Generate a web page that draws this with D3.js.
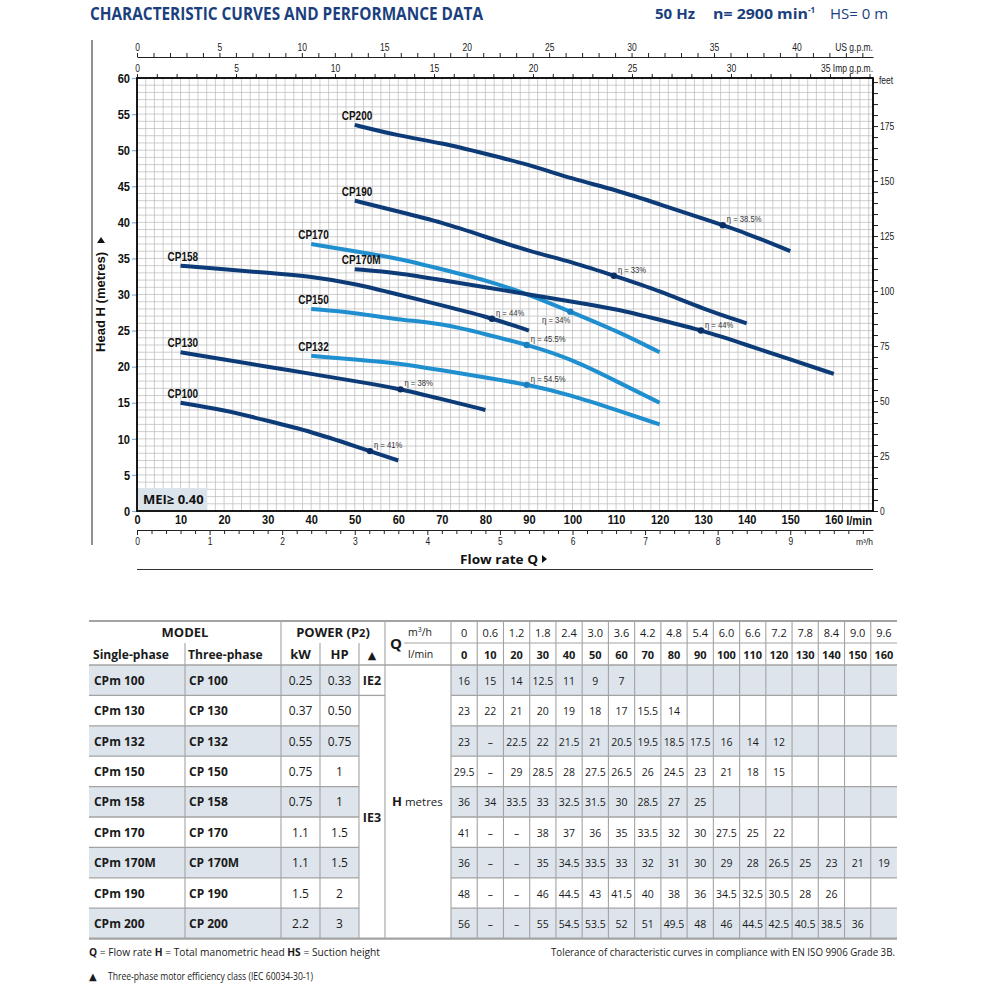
<!DOCTYPE html>
<html><head><meta charset="utf-8">
<script src="https://cdn.jsdelivr.net/npm/d3@7"></script>
<style>body{margin:0;background:#fff}svg{display:block}</style>
</head><body><svg id="c" width="987" height="987"></svg>
<script>
// ---------------- DATA ----------------
const flowLmin = [0,10,20,30,40,50,60,70,80,90,100,110,120,130,140,150,160];
const flowM3h = ["0","0.6","1.2","1.8","2.4","3.0","3.6","4.2","4.8","5.4","6.0","6.6","7.2","7.8","8.4","9.0","9.6"];
const singlePhase = ["CPm 100","CPm 130","CPm 132","CPm 150","CPm 158","CPm 170","CPm 170M","CPm 190","CPm 200"];
const threePhase  = ["CP 100","CP 130","CP 132","CP 150","CP 158","CP 170","CP 170M","CP 190","CP 200"];
const powerKW = ["0.25","0.37","0.55","0.75","0.75","1.1","1.1","1.5","2.2"];
const powerHP = ["0.33","0.50","0.75","1","1","1.5","1.5","2","3"];
const ieClasses = ["IE2","IE3"];
const headTable = [
  [16,15,14,12.5,11,9,7,"","","","","","","","","",""],
  [23,22,21,20,19,18,17,15.5,14,"","","","","","","",""],
  [23,"–",22.5,22,21.5,21,20.5,19.5,18.5,17.5,16,14,12,"","","",""],
  [29.5,"–",29,28.5,28,27.5,26.5,26,24.5,23,21,18,15,"","","",""],
  [36,34,33.5,33,32.5,31.5,30,28.5,27,25,"","","","","","",""],
  [41,"–","–",38,37,36,35,33.5,32,30,27.5,25,22,"","","",""],
  [36,"–","–",35,34.5,33.5,33,32,31,30,29,28,26.5,25,23,21,19],
  [48,"–","–",46,44.5,43,41.5,40,38,36,34.5,32.5,30.5,28,26,"",""],
  [56,"–","–",55,54.5,53.5,52,51,49.5,48,46,44.5,42.5,40.5,38.5,36,""]
];
const curveNames = ["CP100","CP130","CP132","CP150","CP158","CP170","CP170M","CP190","CP200"];
const curveStart = [10,10,40,40,10,40,50,50,50];
const curveEnd   = [60,80,120,120,90,120,160,140,150];
const curveTone  = ["dark","dark","light","light","dark","light","dark","dark","dark"];
const effFlow  = [53.5,60.5,89.5,89.5,81.5,99.5,129.5,109.5,134.5];
const effValue = ["41%","38%","54.5%","45.5%","44%","34%","44%","33%","38.5%"];
const headTicks = [0,5,10,15,20,25,30,35,40,45,50,55,60];
const flowTicks = [0,10,20,30,40,50,60,70,80,90,100,110,120,130,140,150,160];
const usTicks  = [0,5,10,15,20,25,30,35,40];
const impTicks = [0,5,10,15,20,25,30];
const m3hTicks = [0,1,2,3,4,5,6,7,8,9];
const feetTicks = [0,25,50,75,100,125,150,175];

// ---------------- SETUP ----------------
const svg = d3.select("#c");
const NAVY = "#0d3b78", LIGHT = "#1f8fd0", TITLE = "#1b3f7e";
const AR = "'Liberation Sans', Arial, sans-serif";
const OS = "'Open Sans', 'Noto Sans', sans-serif";
const DJ = "'DejaVu Sans', sans-serif";
function narrow(sel, f){ sel.each(function(){ const w=this.getComputedTextLength(); if(w>0){ this.setAttribute("textLength", (w*f).toFixed(1)); this.setAttribute("lengthAdjust","spacingAndGlyphs"); } }); return sel; }
function fitW(sel, w){ sel.attr("textLength", w).attr("lengthAdjust","spacingAndGlyphs"); return sel; }

const L=137, R=873, T=78, B=511;
const QMAX = 169;
const x = d3.scaleLinear([0,QMAX],[L,R]);
const y = d3.scaleLinear([0,60],[B,T]);
const xUS = d3.scaleLinear([0,QMAX/3.7854],[L,R]);
const xImp = d3.scaleLinear([0,QMAX/4.5461],[L,R]);
const xM3 = d3.scaleLinear([0,QMAX/16.6667],[L,R]);
const yFt = d3.scaleLinear([0,60/0.3048],[B,T]);

// ---------------- HEADER ----------------
fitW(svg.append("text").attr("x",90).attr("y",20).attr("font-family",OS).attr("font-weight",700)
  .attr("font-size",18).attr("fill",TITLE).text("CHARACTERISTIC CURVES AND PERFORMANCE DATA"),393);
fitW(svg.append("text").attr("x",655).attr("y",19).attr("font-family",OS).attr("font-weight",700)
  .attr("font-size",15).attr("fill",TITLE).text("50 Hz"),40);
fitW(svg.append("text").attr("x",713).attr("y",19).attr("font-family",OS).attr("font-weight",700)
  .attr("font-size",15).attr("fill",TITLE).text("n= 2900 min"),95);
svg.append("text").attr("x",808).attr("y",13).attr("font-family",OS).attr("font-weight",700)
  .attr("font-size",8).attr("fill",TITLE).text("-1");
fitW(svg.append("text").attr("x",830).attr("y",19).attr("font-family",OS).attr("font-weight",400)
  .attr("font-size",15).attr("fill",TITLE).text("HS= 0 m"),58);

// ---------------- CHART ----------------
svg.append("line").attr("x1",92).attr("x2",92).attr("y1",40).attr("y2",545).attr("stroke","#222").attr("stroke-width",1);

// grid
const grid = svg.append("g").attr("stroke","#b9b9b9").attr("stroke-width",0.7);
d3.range(2,QMAX,2).forEach(q=>grid.append("line").attr("x1",x(q)).attr("x2",x(q)).attr("y1",T).attr("y2",B));
d3.range(1,60,1).forEach(h=>grid.append("line").attr("x1",L).attr("x2",R).attr("y1",y(h)).attr("y2",y(h)));

// left axis
const gy = svg.append("g").attr("transform",`translate(${L},0)`).call(d3.axisLeft(y).tickValues(headTicks).tickSize(5).tickPadding(2));
gy.select(".domain").remove();
gy.selectAll("line").attr("stroke","#7fb0d8").attr("stroke-width",1.2);
gy.selectAll("text").attr("font-family",AR).attr("font-weight",700).attr("font-size",13).attr("fill","#111");
narrow(gy.selectAll("text"),0.85);

// right axis (feet)
const gf = svg.append("g").attr("transform",`translate(${R},0)`)
  .call(d3.axisRight(yFt).tickValues(d3.range(0,197,5)).tickSize(5).tickPadding(2)
  .tickFormat(d=>feetTicks.includes(d)?d:""));
gf.select(".domain").remove();
gf.selectAll("line").attr("stroke","#222");
gf.selectAll("text").attr("font-family",AR).attr("font-size",10).attr("fill","#222");
narrow(gf.selectAll("text"),0.85);
narrow(svg.append("text").attr("x",879).attr("y",84).attr("font-family",AR).attr("font-size",10).attr("fill","#222").text("feet"),0.85);

// top US gpm axis
const gus = svg.append("g").attr("transform","translate(0,57)")
  .call(d3.axisTop(xUS).tickValues(d3.range(0,45,1)).tickSize(4).tickSizeOuter(0).tickPadding(2)
  .tickFormat(d=>usTicks.includes(d)?d:""));
gus.select(".domain").attr("stroke","#222").attr("stroke-width",1.2);
gus.selectAll("line").attr("stroke","#222");
gus.selectAll("text").attr("font-family",AR).attr("font-size",10).attr("fill","#222");
narrow(gus.selectAll("text"),0.85);
narrow(svg.append("text").attr("x",R).attr("y",51).attr("text-anchor","end").attr("font-family",AR).attr("font-size",10).attr("fill","#222").text("US g.p.m."),0.85);

// top Imp gpm axis
const gimp = svg.append("g").attr("transform",`translate(0,${T})`)
  .call(d3.axisTop(xImp).tickValues(d3.range(0,38,1)).tickSize(4).tickSizeOuter(0).tickPadding(2)
  .tickFormat(d=>impTicks.includes(d)?d:""));
gimp.select(".domain").remove();
gimp.selectAll("line").attr("stroke","#222");
gimp.selectAll("text").attr("font-family",AR).attr("font-size",10).attr("fill","#222");
narrow(gimp.selectAll("text"),0.85);
narrow(svg.append("text").attr("x",R).attr("y",72).attr("text-anchor","end").attr("font-family",AR).attr("font-size",10).attr("fill","#222").text("35 Imp g.p.m."),0.85);

// bottom l/min axis
const gx = svg.append("g").attr("transform",`translate(0,${B})`)
  .call(d3.axisBottom(x).tickValues(flowTicks).tickSize(0).tickPadding(4));
gx.select(".domain").remove();
gx.selectAll("text").attr("font-family",AR).attr("font-weight",700).attr("font-size",13).attr("fill","#111");
narrow(gx.selectAll("text"),0.85);
narrow(svg.append("text").attr("x",R-1).attr("y",525).attr("text-anchor","end").attr("font-family",AR).attr("font-weight",700).attr("font-size",13).attr("fill","#111").text("l/min"),0.85);

// bottom m3/h axis
const gm = svg.append("g").attr("transform","translate(0,530)")
  .call(d3.axisBottom(xM3).tickValues(d3.range(0,10.15,0.2).map(v=>+v.toFixed(1))).tickSize(4).tickSizeOuter(0).tickPadding(4)
  .tickFormat(d=>m3hTicks.includes(d)?d:""));
gm.select(".domain").attr("stroke","#222").attr("stroke-width",1.2);
gm.selectAll(".tick line").attr("stroke","#222").attr("y2",d=>m3hTicks.includes(d)?5:4);
gm.selectAll("text").attr("font-family",AR).attr("font-size",10).attr("fill","#222");
narrow(gm.selectAll("text"),0.85);
svg.append("text").attr("x",R).attr("y",545).attr("text-anchor","end").attr("font-family",AR).attr("font-size",8.5).attr("fill","#222")
  .text("m³/h");

// Flow rate label
const fr = svg.append("text").attr("x",460).attr("y",564).attr("font-family",OS).attr("font-weight",700).attr("font-size",12).attr("fill","#111").text("Flow rate  Q");
fitW(fr,78);
svg.append("path").attr("d","M542,555 L547,559 L542,563 Z").attr("fill","#111");
svg.append("line").attr("x1",L).attr("x2",R).attr("y1",569.5).attr("y2",569.5).attr("stroke","#333").attr("stroke-width",1);

// Head label
const hl = svg.append("text").attr("transform","translate(105,352) rotate(-90)").attr("font-family",AR).attr("font-weight",700).attr("font-size",12).attr("fill","#111").text("Head H (metres)");
fitW(hl,100);
svg.append("path").attr("d","M97,243 L101,237 L105,243 Z").attr("fill","#111");

// MEI box
svg.append("rect").attr("x",138).attr("y",488).attr("width",69).attr("height",22).attr("fill","#dbe3eb");
svg.append("text").attr("x",143).attr("y",504).attr("font-family",OS).attr("font-weight",700).attr("font-size",13).attr("fill","#111").text("MEI≥ 0.40");

// curves
const line = d3.line().x(d=>x(d[0])).y(d=>y(d[1])).curve(d3.curveBasis);
const gc = svg.append("g");
curveNames.forEach((name,i)=>{
  const pts = flowLmin.map((q,j)=>[q,headTable[i][j]]).filter(d=>d[0]>=curveStart[i] && d[0]<=curveEnd[i] && typeof d[1]==="number");
  const col = curveTone[i]==="dark"?NAVY:LIGHT;
  const p = gc.append("path").attr("d",line(pts)).attr("fill","none").attr("stroke",col).attr("stroke-width",4);
  narrow(gc.append("text").attr("x",x(pts[0][0])-13).attr("y",y(pts[0][1])-5)
    .attr("font-family",AR).attr("font-weight",700).attr("font-size",12).attr("fill","#111").text(name),0.83);
  const node = p.node(), len = node.getTotalLength(), tx = x(effFlow[i]);
  let lo=0, hi=len;
  for(let k=0;k<40;k++){ const mid=(lo+hi)/2; if(node.getPointAtLength(mid).x<tx) lo=mid; else hi=mid; }
  const pt = node.getPointAtLength((lo+hi)/2);
  gc.append("circle").attr("cx",pt.x).attr("cy",pt.y).attr("r",3.2).attr("fill",curveTone[i]==="dark"?"#0a2f66":"#1a7fbf");
  const left = name==="CP170";
  narrow(gc.append("text").attr("x",left?pt.x:pt.x+4).attr("y",left?pt.y+11:pt.y-3)
    .attr("text-anchor",left?"end":"start").attr("font-family",AR).attr("font-size",9).attr("fill","#333")
    .text("η = "+effValue[i]),0.85);
});

// frame
svg.append("rect").attr("x",L).attr("y",T).attr("width",R-L).attr("height",B-T).attr("fill","none").attr("stroke","#000").attr("stroke-width",1.8);

// ---------------- TABLE ----------------
const TL=89, TR=897, TT=621, H1=643, H2=665, RH=30.4;
const dW = (TR-451)/17;
const dX = i=>451+i*dW;
const rowY = i=>H2+i*RH;
const tb = svg.append("g");
const nRows = singlePhase.length;
for(let i=0;i<nRows;i+=2){
  tb.append("rect").attr("x",TL).attr("y",rowY(i)).attr("width",359-TL).attr("height",RH).attr("fill","#dde4eb");
  tb.append("rect").attr("x",451).attr("y",rowY(i)).attr("width",TR-451).attr("height",RH).attr("fill","#dde4eb");
}
const GL="#a3a3a3";
function hl_(x1,x2,yy,w){ tb.append("line").attr("x1",x1).attr("x2",x2).attr("y1",yy).attr("y2",yy).attr("stroke",GL).attr("stroke-width",w||1.3); }
function vl_(xx,y1,y2){ tb.append("line").attr("x1",xx).attr("x2",xx).attr("y1",y1).attr("y2",y2).attr("stroke",GL).attr("stroke-width",1.1); }
const TB = rowY(nRows);
hl_(TL,TR,TT,2.2); hl_(TL,TR,TB,2.2);
hl_(404,TR,H1,1.1);
hl_(TL,TR,H2,1.3);
for(let i=1;i<nRows;i++){ hl_(TL,359,rowY(i)); hl_(451,TR,rowY(i)); }
hl_(359,385,rowY(1));
vl_(185,H1,TB); vl_(281,TT,TB); vl_(320,H1,TB); vl_(359,H1,TB); vl_(385,TT,TB); vl_(451,TT,TB);
for(let i=1;i<17;i++) vl_(dX(i),TT,TB);

function tt(xx,yy,txt,opt){
  opt=opt||{};
  const t=tb.append("text").attr("x",xx).attr("y",yy).attr("font-family",opt.fam||OS).attr("font-size",opt.size||11)
    .attr("font-weight",opt.bold?700:400).attr("fill","#1a1a1a").attr("text-anchor",opt.anchor||"middle").text(txt);
  if(opt.f) narrow(t,opt.f);
  return t;
}
tt(185,637,"MODEL",{bold:1,size:13});
const pw = tt(333,637,"POWER (P",{bold:1,size:13});
pw.append("tspan").attr("font-size",11).text("2");
pw.append("tspan").text(")");
tt(390,649,"Q",{bold:1,size:15,anchor:"start"});
const m3 = tt(408,636,"m",{size:10.5,anchor:"start"});
m3.append("tspan").attr("font-size",7).attr("dy",-4).text("3");
m3.append("tspan").attr("dy",4).text("/h");
tt(408,658,"l/min",{size:10.5,anchor:"start"});
flowM3h.forEach((v,j)=>tt(dX(j)+dW/2,637,v,{size:11}));
flowLmin.forEach((v,j)=>tt(dX(j)+dW/2,659,v,{size:11,bold:1}));
tt(93,659,"Single-phase",{bold:1,size:13,anchor:"start",f:0.93});
tt(188,659,"Three-phase",{bold:1,size:13,anchor:"start",f:0.93});
tt(300.5,659,"kW",{bold:1,size:13});
tt(339.5,659,"HP",{bold:1,size:13});
tt(372,659,"▲",{size:11,fam:DJ});
for(let i=0;i<nRows;i++){
  const cy=rowY(i)+RH/2+4.5;
  tt(94,cy,singlePhase[i],{bold:1,size:13,anchor:"start",f:0.92});
  tt(189,cy,threePhase[i],{bold:1,size:13,anchor:"start",f:0.92});
  tt(300.5,cy,powerKW[i],{size:12});
  tt(339.5,cy,powerHP[i],{size:12});
  headTable[i].forEach((v,j)=>{ if(v!=="") tt(dX(j)+dW/2,cy,v,{size:11,f:0.95}); });
}
tt(372,rowY(0)+RH/2+4.5,ieClasses[0],{bold:1,size:12.5});
tt(372,(rowY(1)+TB)/2+5,ieClasses[1],{bold:1,size:12.5});
const hm = tt(392,806,"H",{bold:1,size:13,anchor:"start"});
hm.append("tspan").attr("font-weight",400).attr("font-size",11.5).text("  metres");

// ---------------- FOOTER ----------------
const f1 = svg.append("text").attr("x",89).attr("y",956).attr("font-family",OS).attr("font-size",10).attr("fill","#1a1a1a");
f1.append("tspan").attr("font-weight",700).text("Q");
f1.append("tspan").text(" = Flow rate  ");
f1.append("tspan").attr("font-weight",700).text("H");
f1.append("tspan").text(" = Total manometric head  ");
f1.append("tspan").attr("font-weight",700).text("HS");
f1.append("tspan").text(" = Suction height");
fitW(f1,291);
fitW(svg.append("text").attr("x",551).attr("y",956).attr("font-family",OS).attr("font-size",10).attr("fill","#1a1a1a")
  .text("Tolerance of characteristic curves in compliance with EN ISO 9906 Grade 3B."),344);
svg.append("text").attr("x",89).attr("y",980).attr("font-family",DJ).attr("font-size",10).attr("fill","#1a1a1a").text("▲");
fitW(svg.append("text").attr("x",108).attr("y",980).attr("font-family",OS).attr("font-size",10).attr("fill","#1a1a1a")
  .text("Three-phase motor efficiency class (IEC 60034-30-1)"),205);
</script></body></html>
